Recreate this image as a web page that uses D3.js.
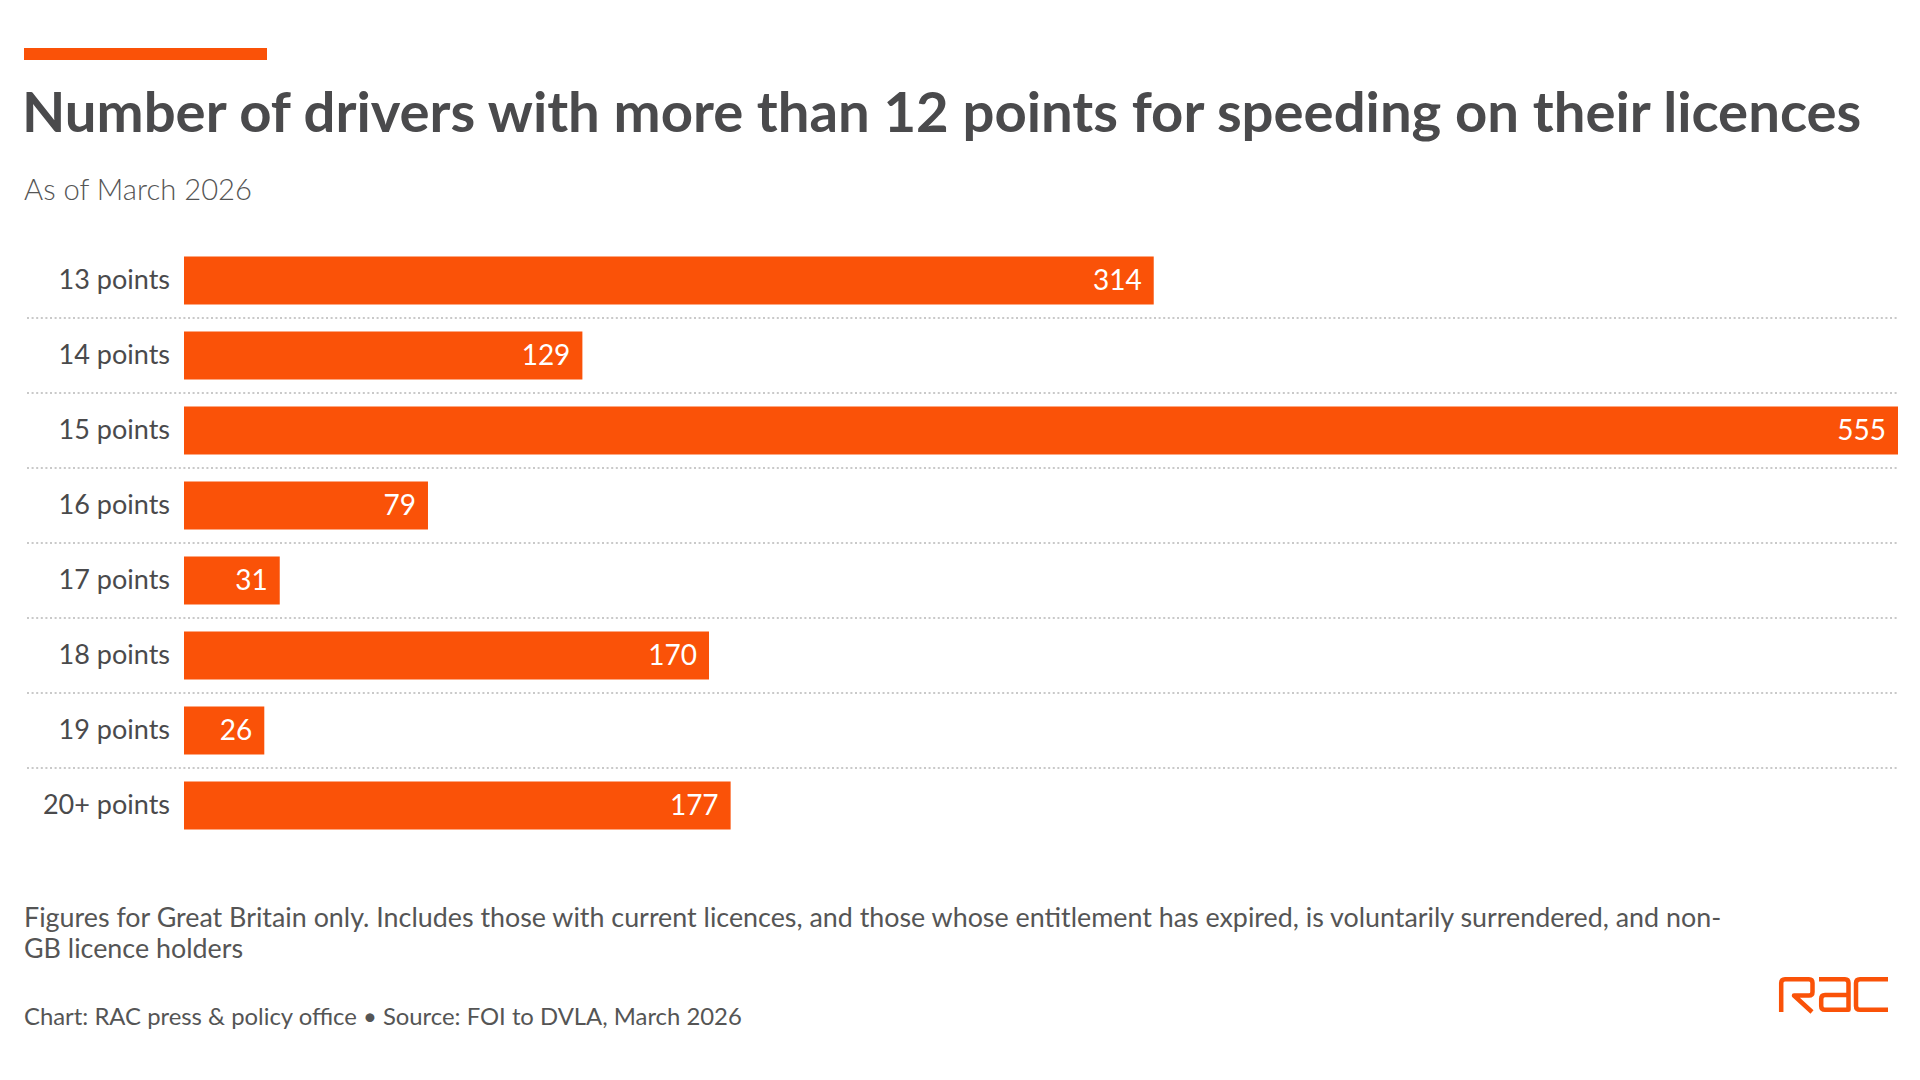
<!DOCTYPE html>
<html>
<head>
<meta charset="utf-8">
<script src="https://cdn.jsdelivr.net/npm/d3@7"></script>
<style>
  body { margin: 0; background: #fff; }
  svg { display: block; font-family: Lato, "Open Sans", sans-serif; }
</style>
</head>
<body>
<svg id="chart"></svg>
<script>
// chart data
var categories = ["13 points", "14 points", "15 points", "16 points", "17 points", "18 points", "19 points", "20+ points"];
var values = [314, 129, 555, 79, 31, 170, 26, 177];

var titleText = "Number of drivers with more than 12 points for speeding on their licences";
var subtitleText = "As of March 2026";
var noteLines = [
  "Figures for Great Britain only. Includes those with current licences, and those whose entitlement has expired, is voluntarily surrendered, and non-",
  "GB licence holders"
];
var sourceText = "Chart: RAC press & policy office \u2022 Source: FOI to DVLA, March 2026";

var orange = "#fa5208";
var textCol = "#4a4a4c";

var svg = d3.select("#chart")
    .attr("width", 1920)
    .attr("height", 1080);

// shrink or grow a text so it spans a given width
function fitWidth(sel, size, width) {
    sel.attr("font-size", size);
    var w = sel.node().getComputedTextLength();
    sel.attr("font-size", size * width / w);
}

// orange accent bar above the title
svg.append("rect")
    .attr("x", 24).attr("y", 48)
    .attr("width", 243).attr("height", 12)
    .attr("fill", orange);

var title = svg.append("text")
    .attr("x", 22).attr("y", 132)
    .attr("fill", textCol)
    .attr("font-weight", 700)
    .text(titleText);
fitWidth(title, 52, 1840);

var sub = svg.append("text")
    .attr("x", 24).attr("y", 200)
    .attr("fill", "#555")
    .attr("font-weight", 300)
    .text(subtitleText);
fitWidth(sub, 30, 228);

// scales
var x = d3.scaleLinear()
    .domain([0, 555])
    .range([184, 1898]);

var y = d3.scaleBand()
    .domain(categories)
    .range([243, 843])
    .paddingInner(0.36)
    .paddingOuter(0.18);

var rows = categories.map(function(c, i) { return { cat: c, value: values[i] }; });

// dotted separators between rows
var gap = y.step() - y.bandwidth();
svg.append("g")
    .selectAll("line")
    .data(categories.slice(0, -1))
    .enter().append("line")
    .attr("x1", 27).attr("x2", 1898)
    .attr("y1", function(d) { return y(d) + y.bandwidth() + gap / 2; })
    .attr("y2", function(d) { return y(d) + y.bandwidth() + gap / 2; })
    .attr("stroke", "#c9c9c9")
    .attr("stroke-width", 2)
    .attr("stroke-dasharray", "2,2.6");

// category labels
var axis = svg.append("g")
    .attr("transform", "translate(" + x(0) + ",0)")
    .call(d3.axisLeft(y).tickSize(0).tickPadding(14));
axis.select(".domain").remove();
axis.selectAll("text")
    .attr("fill", textCol)
    .attr("font-family", "Lato, sans-serif")
    .attr("font-size", 27)
    .attr("dy", "0.3em");

// bars
svg.append("g")
    .selectAll("rect")
    .data(rows)
    .enter().append("rect")
    .attr("x", x(0))
    .attr("y", function(d) { return y(d.cat); })
    .attr("width", function(d) { return x(d.value) - x(0); })
    .attr("height", y.bandwidth())
    .attr("fill", orange);

// value labels inside bar ends
svg.append("g")
    .selectAll("text")
    .data(rows)
    .enter().append("text")
    .attr("x", function(d) { return x(d.value) - 12; })
    .attr("y", function(d) { return y(d.cat) + y.bandwidth() / 2; })
    .attr("dy", "0.33em")
    .attr("text-anchor", "end")
    .attr("fill", "#fff")
    .attr("font-size", 28)
    .text(function(d) { return d.value; });

// notes
var notes = svg.append("g")
    .selectAll("text")
    .data(noteLines)
    .enter().append("text")
    .attr("x", 24)
    .attr("y", function(d, i) { return 927 + i * 31; })
    .attr("fill", "#555")
    .text(function(d) { return d; });
fitWidth(notes, 26, 1698);

var src = svg.append("text")
    .attr("x", 24).attr("y", 1025)
    .attr("fill", "#555")
    .text(sourceText);
fitWidth(src, 25, 718);

// RAC logo drawn as strokes
var logo = svg.append("g")
    .attr("transform", "translate(1779,977)")
    .attr("fill", "none")
    .attr("stroke", orange)
    .attr("stroke-width", 4.5)
    .attr("stroke-linejoin", "round");
logo.append("path").attr("d", "M2.2,35 V6 Q2.2,2.2 6,2.2 H30 Q33.5,2.2 33.5,6 V15 Q33.5,18.5 30,18.5 H15 L33,35");
logo.append("path").attr("d", "M40,2.2 H66 Q69.5,2.2 69.5,6 V32.8 H46 Q42.2,32.8 42.2,29 V22 Q42.2,18 46,18 H69.5");
logo.append("path").attr("d", "M109,2.2 H81 Q77,2.2 77,6 V29 Q77,32.8 81,32.8 H109");
</script>
</body>
</html>
